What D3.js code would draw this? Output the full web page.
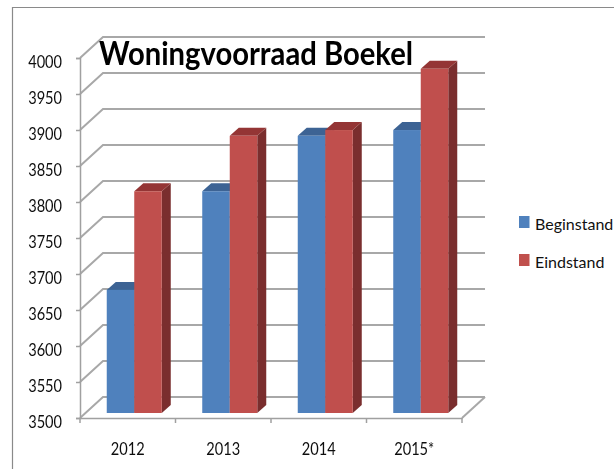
<!DOCTYPE html>
<html>
<head>
<meta charset="utf-8">
<script src="https://cdn.jsdelivr.net/npm/d3@7"></script>
<style>
html, body { margin: 0; padding: 0; background: #fff; overflow: hidden; }
text { font-family: Lato, "Open Sans", sans-serif; fill: #111; }
.grid { fill: none; stroke: #a8a8a8; stroke-width: 2; }
.domain, .tick line { stroke: #a0a0a0; stroke-width: 1.5; }
</style>
</head>
<body>
<div id="chart"></div>
<script>
var w = 614;
var h = 469;

var title = "Woningvoorraad Boekel";
var years = ["2012", "2013", "2014", "2015*"];
var seriesNames = ["Beginstand", "Eindstand"];
var beginstand = [3671, 3808, 3885, 3893];
var eindstand = [3808, 3885, 3893, 3978];
var yTicks = [3500, 3550, 3600, 3650, 3700, 3750, 3800, 3850, 3900, 3950, 4000];

var colors = ["#4f81bd", "#c0504d"];
var topColors = ["#3c6494", "#943634"];
var sideColors = ["#3c6494", "#7a2f2e"];

var left = 80, right = 462, top_ = 58, bottom = 418;
// depth of the 3d box and of the bars
var wallX = 23, wallY = -21;
var barX = 6.5, barY = -5;
var depthX = 9, depthY = -8;

var svg = d3.select("#chart").append("svg").attr("width", w).attr("height", h);

var defs = svg.append("defs");
defs.append("filter").attr("id", "soft")
    .append("feGaussianBlur").attr("stdDeviation", 0.45);

// outer frame, open at the right and the bottom
svg.append("path")
    .attr("d", d3.line()([[12.5, h], [12.5, 7.5], [w, 7.5]]))
    .attr("fill", "none")
    .attr("stroke", "#8a8a8a")
    .attr("stroke-width", 1.2);

var yScale = d3.scaleLinear().domain([3500, 4000]).range([bottom, top_]);

var xScale = d3.scaleBand().domain(years).range([left, right])
    .paddingInner(0.424).paddingOuter(0.212);
var xSub = d3.scaleBand().domain([0, 1]).range([0, xScale.bandwidth()]);

var chart = svg.append("g").attr("filter", "url(#soft)");

// ******Walls and gridlines*****
chart.selectAll(".grid")
    .data(yTicks)
    .enter().append("path")
    .attr("class", "grid")
    .attr("d", function (d) {
        var y = yScale(d);
        return d3.line()([[left, y], [left + wallX, y + wallY], [right + wallX, y + wallY]]);
    });

chart.append("path")
    .attr("class", "grid")
    .attr("d", d3.line()([[right, bottom], [right + wallX, bottom + wallY]]));

// ******Axes*****
var yAxis = d3.axisLeft(yScale).tickValues(yTicks).tickFormat(d3.format("d")).tickSize(4).tickPadding(14);
var yG = chart.append("g").attr("transform", "translate(" + left + ",0)").call(yAxis);

var xAxis = d3.axisBottom(xScale).tickSize(0).tickPadding(20.4);
var xG = chart.append("g").attr("transform", "translate(0," + bottom + ")").call(xAxis);

var edges = [0, 1, 2, 3, 4];
xG.selectAll(".edge")
    .data(edges)
    .enter().append("line")
    .attr("class", "edge")
    .attr("x1", function (d) { return left + d * xScale.step(); })
    .attr("x2", function (d) { return left + d * xScale.step(); })
    .attr("y1", 0)
    .attr("y2", 5)
    .attr("stroke", "#a0a0a0")
    .attr("stroke-width", 1.5);

svg.selectAll(".tick text")
    .attr("font-size", 14.6)
    .attr("fill", "#111");

// the source image is stretched a little in height
yG.selectAll("text").attr("dy", "0.56em").attr("transform", "scale(1,1.2)").attr("text-anchor", "end");
xG.selectAll("text").attr("transform", "scale(1,1.2)");

// ******Bars*****
var rows = [];
years.forEach(function (year, i) {
    rows.push({ year: year, s: 0, value: beginstand[i] });
    rows.push({ year: year, s: 1, value: eindstand[i] });
});

var bar = chart.selectAll(".bar")
    .data(rows)
    .enter().append("g")
    .attr("class", "bar")
    .attr("transform", function (d) {
        return "translate(" + (xScale(d.year) + xSub(d.s) + barX) + "," + barY + ")";
    });

// side face
bar.append("path")
    .attr("fill", function (d) { return sideColors[d.s]; })
    .attr("d", function (d) {
        var bw = xSub.bandwidth(), y = yScale(d.value);
        return d3.line()([[bw, y], [bw + depthX, y + depthY], [bw + depthX, bottom + depthY], [bw, bottom]]) + "Z";
    });

// top face
bar.append("path")
    .attr("fill", function (d) { return topColors[d.s]; })
    .attr("d", function (d) {
        var bw = xSub.bandwidth(), y = yScale(d.value);
        return d3.line()([[0, y], [depthX, y + depthY], [bw + depthX, y + depthY], [bw, y]]) + "Z";
    });

// front face
bar.append("rect")
    .attr("x", 0)
    .attr("y", function (d) { return yScale(d.value); })
    .attr("width", xSub.bandwidth())
    .attr("height", function (d) { return bottom - yScale(d.value); })
    .attr("fill", function (d) { return colors[d.s]; });

// ******Title*****
svg.append("text")
    .attr("x", 99)
    .attr("y", 65)
    .attr("font-size", 32)
    .attr("font-weight", "bold")
    .attr("textLength", 314)
    .attr("lengthAdjust", "spacingAndGlyphs")
    .style("fill", "#000")
    .text(title);

// ******Legend*****
var legendY = d3.scalePoint().domain(seriesNames).range([222, 260]);

var legend = svg.selectAll(".legend")
    .data(seriesNames)
    .enter().append("g")
    .attr("class", "legend")
    .attr("transform", function (d) { return "translate(519," + legendY(d) + ")"; });

legend.append("rect")
    .attr("x", 0)
    .attr("y", -6)
    .attr("width", 10.5)
    .attr("height", 12)
    .attr("fill", function (d, i) { return colors[i]; });

legend.append("text")
    .attr("x", 16)
    .attr("y", 7.5)
    .attr("font-size", 16)
    .text(function (d) { return d; });
</script>
</body>
</html>
